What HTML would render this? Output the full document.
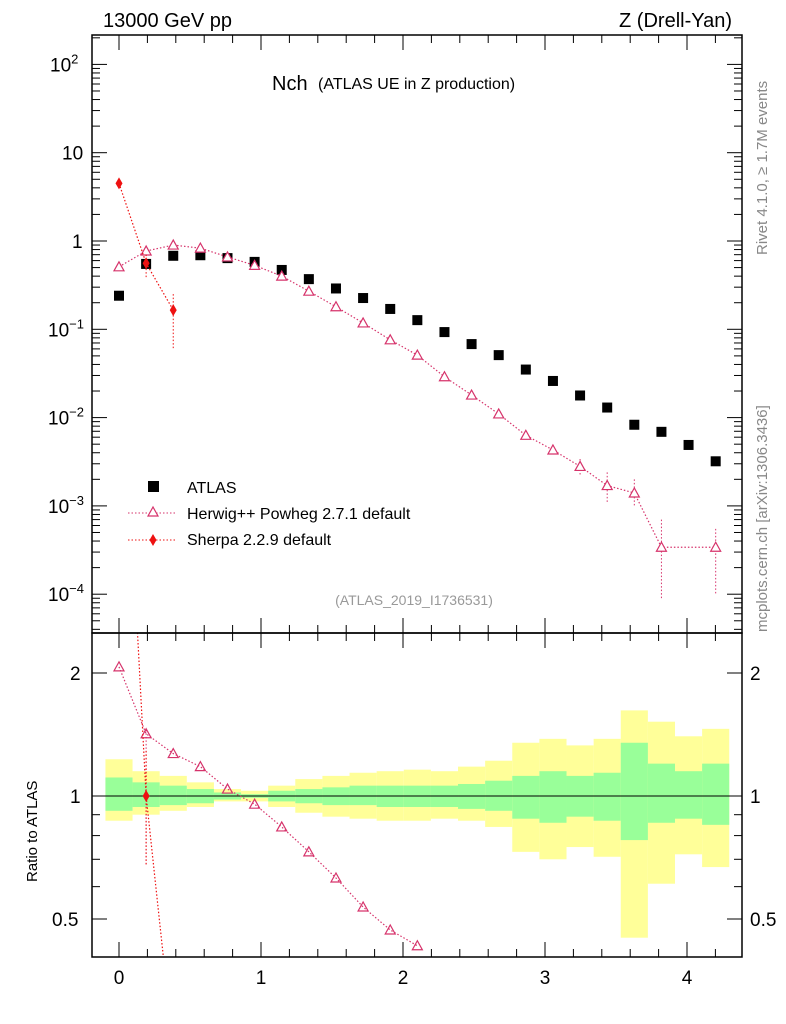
<!DOCTYPE html>
<html><head><meta charset="utf-8"><style>
body{margin:0;background:#fff}
svg{display:block;font-family:"Liberation Sans",sans-serif}
</style></head><body>
<svg id="c" width="786" height="1024" xmlns="http://www.w3.org/2000/svg"></svg>
<script>
const xs=[0,0.191,0.382,0.573,0.764,0.955,1.146,1.337,1.528,1.719,1.91,2.101,2.292,2.483,2.674,2.865,3.056,3.247,3.438,3.629,3.82,4.011,4.202];
const atlas=[0.24,0.55,0.68,0.69,0.64,0.58,0.47,0.37,0.29,0.226,0.17,0.127,0.093,0.068,0.051,0.035,0.026,0.0178,0.013,0.0083,0.0069,0.0049,0.0032];
const herwigX=[0,0.191,0.382,0.573,0.764,0.955,1.146,1.337,1.528,1.719,1.91,2.101,2.292,2.483,2.674,2.865,3.056,3.247,3.438,3.629,3.82,4.202];
const herwig=[0.51,0.77,0.9,0.83,0.66,0.53,0.40,0.27,0.18,0.118,0.076,0.051,0.029,0.018,0.011,0.0063,0.0043,0.0028,0.0017,0.0014,0.00034,0.00034];
const herwigLo=[0.51,0.77,0.9,0.83,0.66,0.53,0.40,0.27,0.18,0.118,0.076,0.051,0.029,0.018,0.011,0.0058,0.0038,0.0022,0.0011,0.001,0.00009,0.0001];
const herwigHi=[0.51,0.77,0.9,0.83,0.66,0.53,0.40,0.27,0.18,0.118,0.076,0.051,0.029,0.018,0.011,0.0068,0.0048,0.0034,0.0024,0.002,0.0007,0.00055];
const sherpaX=[0,0.191,0.382];
const sherpa=[4.5,0.56,0.165];
const sherpaLo=[4.5,0.38,0.06];
const sherpaHi=[4.5,0.7,0.25];
const herwigRatio=[2.07,1.42,1.27,1.18,1.04,0.955,0.84,0.73,0.63,0.535,0.47,0.43];
const sherpaRatio=[18,1.0,0.24];
const yelUp=[1.23,1.15,1.12,1.08,1.04,1.03,1.06,1.10,1.12,1.14,1.15,1.16,1.15,1.18,1.22,1.35,1.38,1.33,1.38,1.62,1.52,1.40,1.46];
const yelDn=[0.87,0.90,0.92,0.94,0.97,0.97,0.94,0.91,0.89,0.88,0.87,0.87,0.88,0.87,0.84,0.73,0.70,0.75,0.71,0.45,0.61,0.72,0.67];
const grnUp=[1.11,1.08,1.06,1.04,1.02,1.01,1.03,1.04,1.05,1.06,1.06,1.06,1.06,1.07,1.09,1.12,1.15,1.12,1.14,1.35,1.20,1.15,1.20];
const grnDn=[0.92,0.94,0.95,0.96,0.98,0.99,0.97,0.96,0.95,0.95,0.94,0.94,0.94,0.93,0.92,0.88,0.86,0.89,0.87,0.78,0.86,0.88,0.85];
const xTicks=[0,1,2,3,4];

const L=92,R=742,T=35,MB=633,RB=957;
const X=v=>119+v*142;
const Y=v=>241-Math.log10(v)*88.3;
const YR=v=>796-Math.log10(v)*408.6;
const svg=document.getElementById('c');
const NS='http://www.w3.org/2000/svg';
function mk(tag,attrs,parent){const e=document.createElementNS(NS,tag);for(const k in attrs)e.setAttribute(k,attrs[k]);(parent||svg).appendChild(e);return e;}
function txt(x,y,s,attrs,parent){const e=mk('text',Object.assign({x:x,y:y},attrs),parent);e.textContent=s;return e;}

const defs=mk('defs',{});
const c1=mk('clipPath',{id:'cm'},defs);mk('rect',{x:L,y:T,width:R-L,height:MB-T},c1);
const c2=mk('clipPath',{id:'cr'},defs);mk('rect',{x:L,y:MB,width:R-L,height:RB-MB},c2);

const gr=mk('g',{'clip-path':'url(#cr)'});


const hw=0.0955*142;
xs.forEach((x,i)=>{
  const y=mk('rect',{x:X(x)-hw,y:YR(yelUp[i]),width:2*hw,height:YR(yelDn[i])-YR(yelUp[i]),fill:'#ffff99'},gr);
  
  
});
xs.forEach((x,i)=>{
  const g=mk('rect',{x:X(x)-hw,y:YR(grnUp[i]),width:2*hw,height:YR(grnDn[i])-YR(grnUp[i]),fill:'#99ff99'},gr);
  
  
});
mk('line',{x1:L,x2:R,y1:YR(1),y2:YR(1),stroke:'#000','stroke-width':1},gr);
mk('polyline',{points:herwigRatio.map((v,i)=>X(herwigX[i])+','+YR(v)).join(' '),fill:'none',stroke:'#d6336b','stroke-dasharray':'1.5,2','stroke-width':1.2},gr);
herwigRatio.forEach((v,i)=>{const cx=X(herwigX[i]),cy=YR(v);
  const p=mk('polygon',{points:`${cx},${cy-5} ${cx-5},${cy+4} ${cx+5},${cy+4}`,fill:'none',stroke:'#d6336b','stroke-width':1.2},gr);
  
  });
mk('line',{x1:X(0.191),x2:X(0.191),y1:YR(0.68),y2:YR(1.46),stroke:'#d6336b','stroke-dasharray':'1.5,2'},gr);
mk('polyline',{points:sherpaRatio.map((v,i)=>X(sherpaX[i])+','+YR(v)).join(' '),fill:'none',stroke:'#ee1111','stroke-dasharray':'1.5,2','stroke-width':1.2},gr);
mk('line',{x1:X(0.191),x2:X(0.191),y1:YR(0.68),y2:YR(1.3),stroke:'#ee1111','stroke-dasharray':'1.5,2'},gr);
{const cx=X(0.191),cy=YR(sherpaRatio[1]);const p=mk('polygon',{points:`${cx},${cy-6} ${cx+3.5},${cy} ${cx},${cy+6} ${cx-3.5},${cy}`,fill:'#ee1111'},gr);
}

const gm=mk('g',{'clip-path':'url(#cm)'});


xs.forEach((x,i)=>{const r=mk('rect',{x:X(x)-5,y:Y(atlas[i])-5,width:10,height:10,fill:'#000'},gm);
  
  });
mk('polyline',{points:herwig.map((v,i)=>X(herwigX[i])+','+Y(v)).join(' '),fill:'none',stroke:'#d6336b','stroke-dasharray':'1.5,2','stroke-width':1.2},gm);
herwig.forEach((v,i)=>{const cx=X(herwigX[i]),cy=Y(v);
  if(herwigHi[i]>herwigLo[i]*1.01)mk('line',{x1:cx,x2:cx,y1:Y(herwigHi[i]),y2:Y(herwigLo[i]),stroke:'#d6336b','stroke-dasharray':'1.5,2'},gm);
  const p=mk('polygon',{points:`${cx},${cy-5} ${cx-5},${cy+4} ${cx+5},${cy+4}`,fill:'#fff',stroke:'#d6336b','stroke-width':1.2},gm);
  
  });
mk('polyline',{points:sherpa.map((v,i)=>X(sherpaX[i])+','+Y(v)).join(' '),fill:'none',stroke:'#ee1111','stroke-dasharray':'1.5,2','stroke-width':1.2},gm);
sherpa.forEach((v,i)=>{const cx=X(sherpaX[i]),cy=Y(v);
  if(sherpaHi[i]>sherpaLo[i]*1.01)mk('line',{x1:cx,x2:cx,y1:Y(sherpaHi[i]),y2:Y(sherpaLo[i]),stroke:'#ee1111','stroke-dasharray':'1.5,2'},gm);
  const p=mk('polygon',{points:`${cx},${cy-6} ${cx+3.5},${cy} ${cx},${cy+6} ${cx-3.5},${cy}`,fill:'#ee1111'},gm);
  
  });

mk('rect',{x:L,y:T,width:R-L,height:MB-T,fill:'none',stroke:'#000','stroke-width':1.5});
mk('rect',{x:L,y:MB,width:R-L,height:RB-MB,fill:'none',stroke:'#000','stroke-width':1.5});

for(let e=-5;e<=2;e++){for(let m=1;m<10;m++){const v=m*Math.pow(10,e);const y=Y(v);if(y<T||y>MB)continue;const len=m==1?15:8;
  mk('line',{x1:L,x2:L+len,y1:y,y2:y,stroke:'#000'});mk('line',{x1:R,x2:R-len,y1:y,y2:y,stroke:'#000'});}}
const yl=[[2,'10','2'],[1,'10',''],[0,'1',''],[-1,'10','−1'],[-2,'10','−2'],[-3,'10','−3'],[-4,'10','−4']];
yl.forEach(([e,b,s])=>{const y=Y(Math.pow(10,e))+7;
  const t=txt(s?70:(e==1?62:72),y,b,{'font-size':19});
  if(s){const sp=document.createElementNS(NS,'tspan');sp.setAttribute('dy','-8');sp.setAttribute('font-size','13');sp.textContent=s;t.appendChild(sp);t.setAttribute('x',s.length>1?48:50);}
  });
[0.5,0.6,0.7,0.8,0.9,1,2].forEach(v=>{const y=YR(v);if(y<MB||y>RB)return;const len=(v==0.5||v==1||v==2)?15:8;
  mk('line',{x1:L,x2:L+len,y1:y,y2:y,stroke:'#000'});mk('line',{x1:R,x2:R-len,y1:y,y2:y,stroke:'#000'});});
[[2,'2'],[1,'1'],[0.5,'0.5']].forEach(([v,s])=>{const y=YR(v)+7;
  const a=txt(s.length>1?52:70,y,s,{'font-size':19});
  const b=txt(750,y,s,{'font-size':19});});
for(let v=-0.2;v<=4.4;v+=0.2){const x=X(Math.round(v*10)/10);if(x<L||x>R)continue;const maj=Math.abs(v-Math.round(v))<0.01;const len=maj?15:8;
  [MB,RB].forEach(b=>mk('line',{x1:x,x2:x,y1:b,y2:b-len,stroke:'#000'}));mk('line',{x1:x,x2:x,y1:T,y2:T+len,stroke:'#000'});
  mk('line',{x1:x,x2:x,y1:MB,y2:MB+len,stroke:'#000'});}
xTicks.forEach(v=>{const t=txt(X(v),984,String(v),{'font-size':19,'text-anchor':'middle'});});

let t;
t=txt(103,27,'13000 GeV pp',{'font-size':20});
t=txt(732,27,'Z (Drell-Yan)',{'font-size':20,'text-anchor':'end'});
t=txt(272,90,'Nch',{'font-size':20});
t=txt(318,89,'(ATLAS UE in Z production)',{'font-size':16});
t=txt(414,605,'(ATLAS_2019_I1736531)',{'font-size':14,fill:'#999','text-anchor':'middle'});
t=txt(0,0,'Ratio to ATLAS',{'font-size':15,transform:'translate(37,882) rotate(-90)'});
t=txt(0,0,'Rivet 4.1.0, ≥ 1.7M events',{'font-size':15,fill:'#888',transform:'translate(767,255) rotate(-90)'});
t=txt(0,0,'mcplots.cern.ch [arXiv:1306.3436]',{'font-size':15,fill:'#888',transform:'translate(767,632) rotate(-90)'});

const lg=mk('g',{});
mk('rect',{x:148,y:481,width:11,height:11,fill:'#000'},lg);
txt(187,493,'ATLAS',{'font-size':16},lg);
mk('line',{x1:128,x2:176,y1:513,y2:513,stroke:'#d6336b','stroke-dasharray':'1.5,2'},lg);
mk('polygon',{points:'153,507 148,516 158,516',fill:'#fff',stroke:'#d6336b','stroke-width':1.2},lg);
txt(187,519,'Herwig++ Powheg 2.7.1 default',{'font-size':16},lg);
mk('line',{x1:128,x2:176,y1:540,y2:540,stroke:'#ee1111','stroke-dasharray':'1.5,2'},lg);
mk('polygon',{points:'153,534 156.5,540 153,546 149.5,540',fill:'#ee1111'},lg);
txt(187,545,'Sherpa 2.2.9 default',{'font-size':16},lg);
</script>
</body></html>
